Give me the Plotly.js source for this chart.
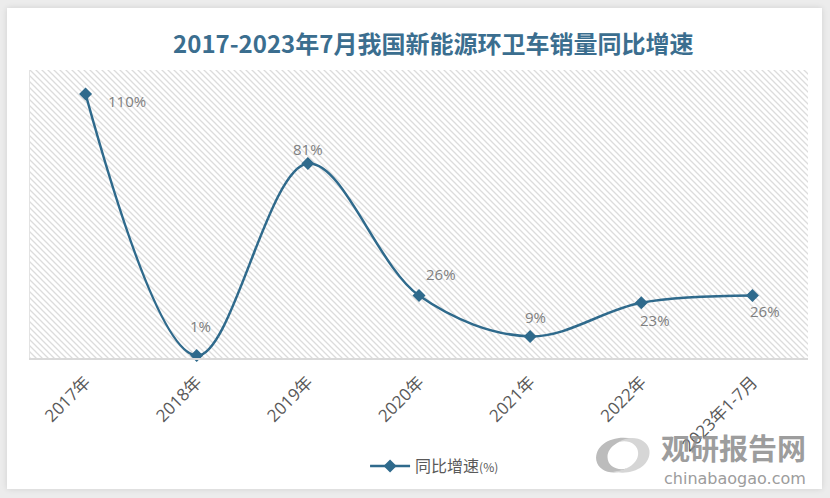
<!DOCTYPE html>
<html>
<head>
<meta charset="utf-8">
<script src="https://cdn.plot.ly/plotly-3.0.1.min.js"></script>
<style>
  html, body { margin: 0; padding: 0; background: #ececec; width: 830px; height: 498px; overflow: hidden; }
  #card { position: absolute; left: 7px; top: 8px; width: 815px; height: 481px; background: #ffffff; box-shadow: 0 0 6px rgba(0,0,0,0.12); }
  #chart { position: absolute; left: 0; top: 0; width: 830px; height: 498px; }
</style>
</head>
<body>
<div id="card"></div>
<div id="chart"></div>
<script>
const categories = ["2017年", "2018年", "2019年", "2020年", "2021年", "2022年", "2023年1-7月"];
const growth = [110, 1, 81, 26, 9, 23, 26];
const labels = ["110%", "1%", "81%", "26%", "9%", "23%", "26%"];
// pixel offsets of each data label from its point (style only)
const labelShiftX = [41, 4, 0, 22, 5, 14, 13];
const labelShiftY = [-7, 30, 15, 22, 19, -17, -15];

const hatch = 'data:image/svg+xml;utf8,' + encodeURIComponent(
  '<svg xmlns="http://www.w3.org/2000/svg" width="778" height="288" viewBox="0 0 778 288" preserveAspectRatio="none">' +
  '<defs><pattern id="p" width="6" height="6" patternUnits="userSpaceOnUse">' +
  '<rect width="6" height="6" fill="#ffffff"/>' +
  '<path d="M-1,-1 L7,7 M-1,5 L1,7 M5,-1 L7,1" stroke="#dcdcdc" stroke-width="1.3"/>' +
  '</pattern></defs><rect width="778" height="288" fill="url(#p)"/></svg>');

const logo = 'data:image/svg+xml;utf8,' + encodeURIComponent(
  '<svg xmlns="http://www.w3.org/2000/svg" width="64" height="50" viewBox="0 0 64 50">' +
  '<path d="M6,30 C4,14 24,4 42,9 C30,9 17,16 17,27 C17,36 27,41 36,38 C25,46 8,42 6,30 Z" fill="#b5b5b5"/>' +
  '<path d="M58,20 C60,36 40,46 22,41 C34,41 47,34 47,23 C47,14 37,9 28,12 C39,4 56,8 58,20 Z" fill="#d2d2d2"/>' +
  '</svg>');

const trace = {
  x: categories,
  y: growth,
  type: 'scatter',
  mode: 'lines+markers',
  name: '同比增速<span style="font-size:12px">(%)</span>',
  line: { color: '#2f6a8c', width: 2.5, shape: 'spline', smoothing: 1 },
  marker: { symbol: 'diamond', size: 10, color: '#2f6a8c' },
  cliponaxis: false,
  hoverinfo: 'x+y'
};

const labelAnnotations = categories.map((c, i) => ({
  x: c, y: growth[i], xref: 'x', yref: 'y',
  text: labels[i], showarrow: false,
  xshift: labelShiftX[i], yshift: labelShiftY[i],
  xanchor: 'center', yanchor: 'middle',
  font: { family: 'Open Sans, Noto Sans CJK SC, sans-serif', size: 15, color: '#808080' }
}));

const layout = {
  width: 830,
  height: 498,
  paper_bgcolor: 'rgba(0,0,0,0)',
  plot_bgcolor: 'rgba(0,0,0,0)',
  margin: { l: 30, r: 22, t: 70, b: 140 },
  title: {
    text: '<b>2017-2023年7月我国新能源环卫车销量同比增速</b>',
    font: { family: 'Noto Sans CJK SC, sans-serif', size: 24, color: '#3b6e8f' },
    x: 0.522, xanchor: 'center', y: 0.91, yanchor: 'middle'
  },
  xaxis: {
    type: 'category',
    range: [-0.5, 6.5],
    showgrid: false,
    zeroline: false,
    showline: true,
    linecolor: '#d9d9d9',
    linewidth: 1.5,
    ticks: '',
    tickangle: -45,
    ticklabelstandoff: 6,
    tickfont: { family: 'Open Sans, Noto Sans CJK SC, sans-serif', size: 17, color: '#595959' },
    fixedrange: true
  },
  yaxis: {
    range: [0, 120],
    showgrid: false,
    zeroline: false,
    showline: true,
    linecolor: '#e3e3e3',
    showticklabels: false,
    ticks: '',
    fixedrange: true
  },
  showlegend: true,
  legend: {
    orientation: 'h',
    x: 0.52, xanchor: 'center',
    y: -0.375, yanchor: 'middle',
    itemwidth: 40,
    font: { family: 'Noto Sans CJK SC, sans-serif', size: 16, color: '#595959' },
    bgcolor: 'rgba(0,0,0,0)'
  },
  images: [
    { source: hatch, xref: 'paper', yref: 'paper', x: 0, y: 1, sizex: 1, sizey: 1,
      xanchor: 'left', yanchor: 'top', sizing: 'stretch', layer: 'below' },
    { source: logo, xref: 'paper', yref: 'paper', x: 0.72, y: -0.25, sizex: 0.084, sizey: 0.175,
      xanchor: 'left', yanchor: 'top', sizing: 'stretch', layer: 'above', opacity: 0.9 }
  ],
  annotations: labelAnnotations.concat([
    { text: '<b>观研报告网</b>', xref: 'paper', yref: 'paper', x: 1.0, y: -0.309, xanchor: 'right', yanchor: 'middle',
      showarrow: false, font: { family: 'Noto Sans CJK SC, sans-serif', size: 29, color: '#8c8c8c' }, opacity: 0.85 },
    { text: 'chinabaogao.com', xref: 'paper', yref: 'paper', x: 1.0, y: -0.417, xanchor: 'right', yanchor: 'middle',
      showarrow: false, font: { family: 'DejaVu Sans, sans-serif', size: 16, color: '#8c8c8c' }, opacity: 0.85 }
  ])
};

Plotly.newPlot('chart', [trace], layout, { displayModeBar: false, staticPlot: true });
</script>
</body>
</html>
